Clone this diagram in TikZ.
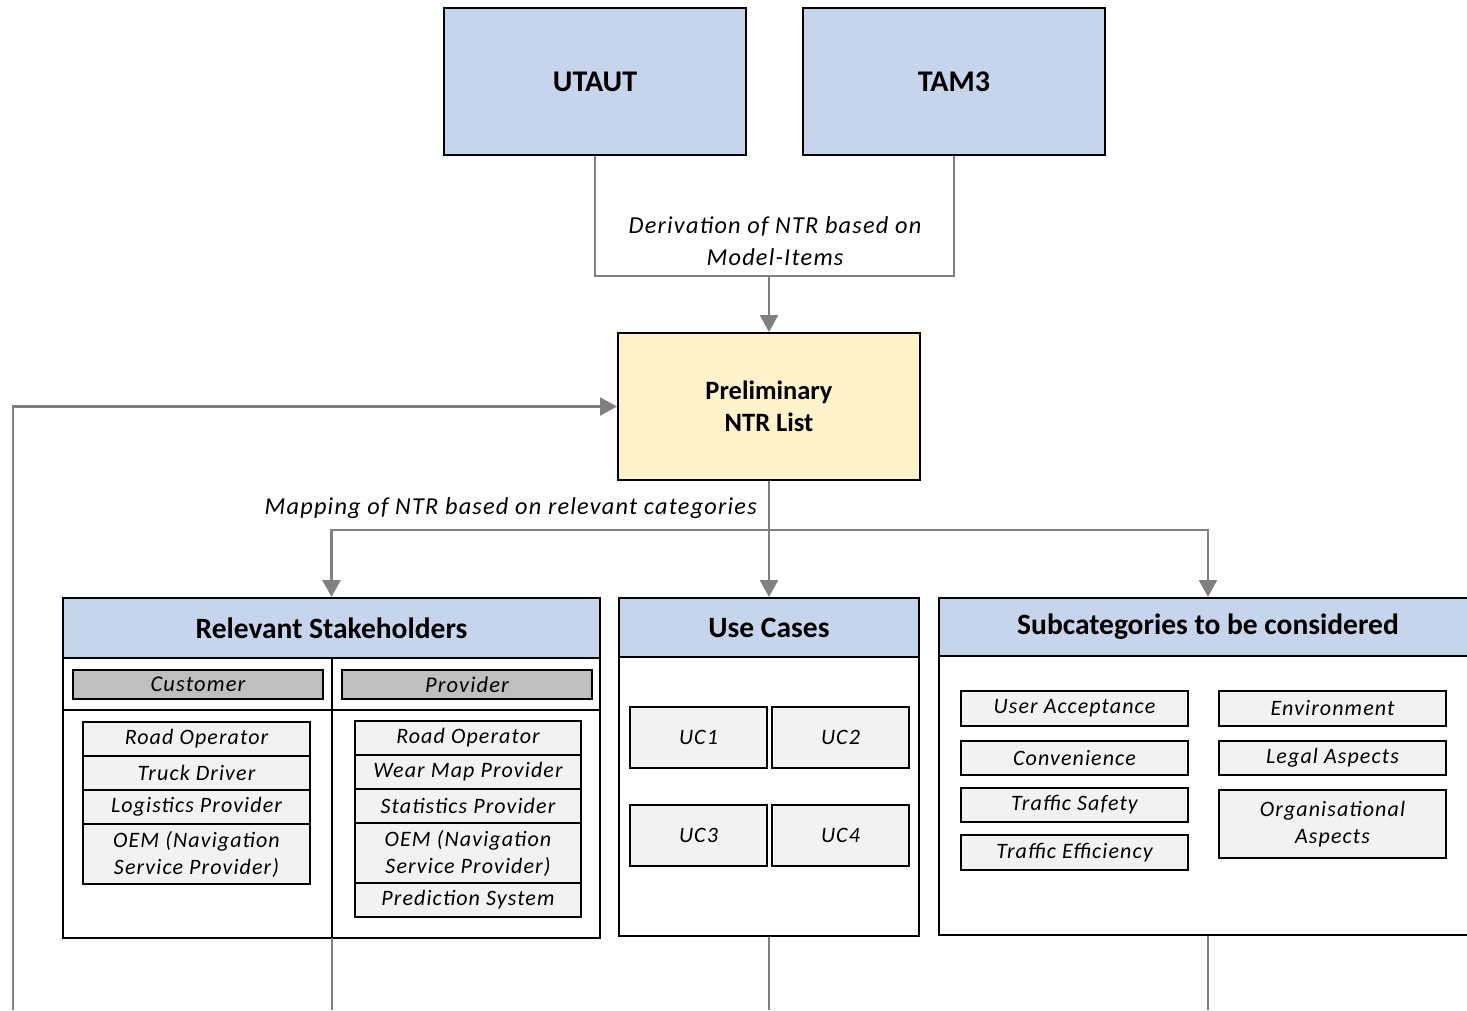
\documentclass[tikz,border=0pt]{standalone}
\usepackage{fontspec}
\setmainfont{Carlito}
\newfontfamily\spcfont{Carlito}[LetterSpace=5]
\usetikzlibrary{arrows.meta}
\definecolor{hblue}{RGB}{198,212,236}
\definecolor{nyellow}{RGB}{255,242,204}
\definecolor{cgrey}{RGB}{191,191,191}
\definecolor{ifill}{RGB}{242,242,242}
\definecolor{lgrey}{RGB}{128,128,128}
\newcommand\mybox[7]{\node[box,#6,minimum width={#4pt-#2pt},minimum height={#5pt-#3pt}] (#1) at ({(#2+#4)/2},{(#3+#5)/2}) {#7};}
\begin{document}
\begin{tikzpicture}[x=1pt,y=-1pt,
  box/.style={draw=black,line width=2pt,inner sep=0pt,align=center,anchor=center},
  topbox/.style={fill=hblue,font=\fontsize{30}{36}\selectfont\bfseries},
  prelbox/.style={fill=nyellow,font=\fontsize{26.5}{32}\selectfont\bfseries},
  outer/.style={fill=white},
  header/.style={fill=hblue,font=\fontsize{29.5}{34}\selectfont\bfseries},
  catbox/.style={fill=cgrey,line width=1.5pt,font=\fontsize{22.5}{27}\spcfont\itshape},
  item/.style={fill=ifill,line width=2pt,font=\fontsize{22}{27}\spcfont\itshape},
  conn/.style={draw=lgrey,line width=2.5pt},
  arr/.style={conn,-{Triangle[length=17pt,width=18pt]}},
  lbl/.style={inner sep=0pt,align=center,font=\fontsize{24.3}{32}\spcfont\itshape}]
\clip (0,0) rectangle (1467,1010);
\fill[white] (0,0) rectangle (1467,1010);
% top boxes
\mybox{utaut}{444}{8}{746}{155}{topbox}{UTAUT}
\mybox{tam}{803}{8}{1105}{155}{topbox}{TAM3}
\mybox{prel}{618}{333}{920}{480}{prelbox}{Preliminary\\NTR List}
% connectors top
\coordinate (j1) at (769,276);
\draw[conn] (utaut.south) |- (j1) -| (tam.south);
\draw[arr] (j1) -- (prel.north);
\node[lbl] (lbl1) at (775,241) {Derivation of NTR based on\\Model-Items};
% category boxes
\mybox{rs}{63}{598}{600}{938}{outer}{}
\mybox{rsh}{63}{598}{600}{658}{header}{Relevant Stakeholders}
\mybox{uc}{619}{598}{919}{936}{outer}{}
\mybox{uch}{619}{598}{919}{657}{header}{Use Cases}
\mybox{sub}{939}{598}{1477}{935}{outer}{}
\mybox{subh}{939}{598}{1477}{656}{header}{Subcategories to be considered}
% mapping connectors
\coordinate (j2) at (769,530);
\draw[conn] (prel.south) -- (j2);
\draw[arr] (j2) -| (rs.north);
\draw[arr] (j2) -- (uc.north);
\draw[arr] (j2) -| (sub.north);
\node[lbl,anchor=east] (lbl2) at (757,508) {Mapping of NTR based on relevant categories};
% feedback
\coordinate (fb) at (13,1010);
\draw[arr] (fb) |- (prel.west);
% stakeholder inner structure
\coordinate (d1) at (332,658);
\coordinate (d2) at (332,938);
\coordinate (r1) at (63,710);
\coordinate (r2) at (600,710);
\draw[line width=2pt] (d1) -- (d2);
\draw[line width=2pt] (r1) -- (r2);
\mybox{cust}{73}{670}{323}{699}{catbox}{Customer}
\mybox{prov}{342}{670}{592}{699}{catbox}{Provider}
\mybox{c1}{83}{722}{310}{756}{item}{Road Operator}
\mybox{c2}{83}{756}{310}{790}{item}{Truck Driver}
\mybox{c3}{83}{790}{310}{824}{item}{Logistics Provider}
\mybox{c4}{83}{824}{310}{884}{item}{OEM (Navigation\\Service Provider)}
\mybox{p1}{355}{721}{581}{755}{item}{Road Operator}
\mybox{p2}{355}{755}{581}{789}{item}{Wear Map Provider}
\mybox{p3}{355}{789}{581}{823}{item}{Statistics Provider}
\mybox{p4}{355}{823}{581}{883}{item}{OEM (Navigation\\Service Provider)}
\mybox{p5}{355}{883}{581}{917}{item}{Prediction System}
% use cases
\mybox{uc1}{630}{707}{767}{768}{item}{UC1}
\mybox{uc2}{772}{707}{909}{768}{item}{UC2}
\mybox{uc3}{630}{805}{767}{866}{item}{UC3}
\mybox{uc4}{772}{805}{909}{866}{item}{UC4}
% subcategories
\mybox{s1}{961}{691}{1188}{726}{item}{User Acceptance}
\mybox{s2}{961}{741}{1188}{775}{item}{Convenience}
\mybox{s3}{961}{788}{1188}{822}{item}{Traffic Safety}
\mybox{s4}{961}{835}{1188}{870}{item}{Traffic Efficiency}
\mybox{s5}{1219}{691}{1446}{726}{item}{Environment}
\mybox{s6}{1219}{741}{1446}{775}{item}{Legal Aspects}
\mybox{s7}{1219}{790}{1446}{858}{item}{Organisational\\Aspects}
% bottom continuation lines
\draw[conn] (d2) -- (d2 |- fb);
\draw[conn] (uc.south) -- (uc.south |- fb);
\draw[conn] (sub.south) -- (sub.south |- fb);
\end{tikzpicture}
\end{document}
